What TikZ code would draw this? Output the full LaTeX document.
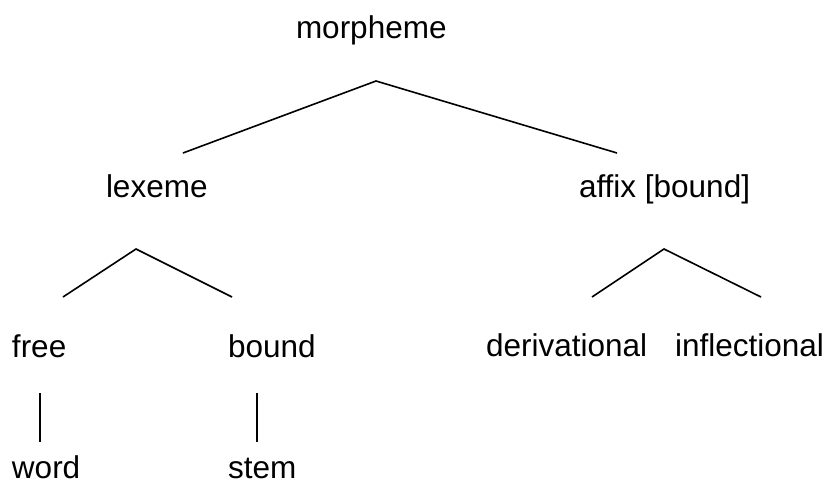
\documentclass[tikz,border=0pt]{standalone}
\usepackage{fontspec}
\setmainfont{Liberation Sans}[Ligatures=NoCommon]
\begin{document}
\begin{tikzpicture}[x=1pt,y=-1pt,
  lbl/.style={anchor=base west,inner sep=0pt,outer sep=0pt,font=\fontsize{31.5}{36}\selectfont},
  branch/.style={line width=1.6pt,black}]
\useasboundingbox (0,0) rectangle (826,482);
% labels
\node[lbl] (morpheme) at (296,38) {morpheme};
\node[lbl] (lexeme) at (106,197) {lexeme};
\node[lbl] (affix) at (579,197) {af{}fix [bound]};
\node[lbl] (free) at (12,357) {free};
\node[lbl] (bound) at (228,357) {bound};
\node[lbl] (deriv) at (486,356) {derivational};
\node[lbl] (infl) at (675,356) {inf{}lectional};
\node[lbl] (word) at (12,478) {word};
\node[lbl] (stem) at (228,478) {stem};
% branch points
\coordinate (mA) at (376,81);
\coordinate (mL) at (183,153);
\coordinate (mR) at (617,153);
\coordinate (lA) at (136,249);
\coordinate (lL) at (63,297);
\coordinate (lR) at (232,297);
\coordinate (aA) at (664,249);
\coordinate (aL) at (592,297);
\coordinate (aR) at (761,297);
\coordinate (fT) at (40,393);
\coordinate (fB) at (40,442);
\coordinate (bT) at (257,393);
\coordinate (bB) at (257,442);
\draw[branch] (mL) -- (mA) -- (mR);
\draw[branch] (lL) -- (lA) -- (lR);
\draw[branch] (aL) -- (aA) -- (aR);
\draw[branch] (fT) -- (fB);
\draw[branch] (bT) -- (bB);
\end{tikzpicture}
\end{document}
